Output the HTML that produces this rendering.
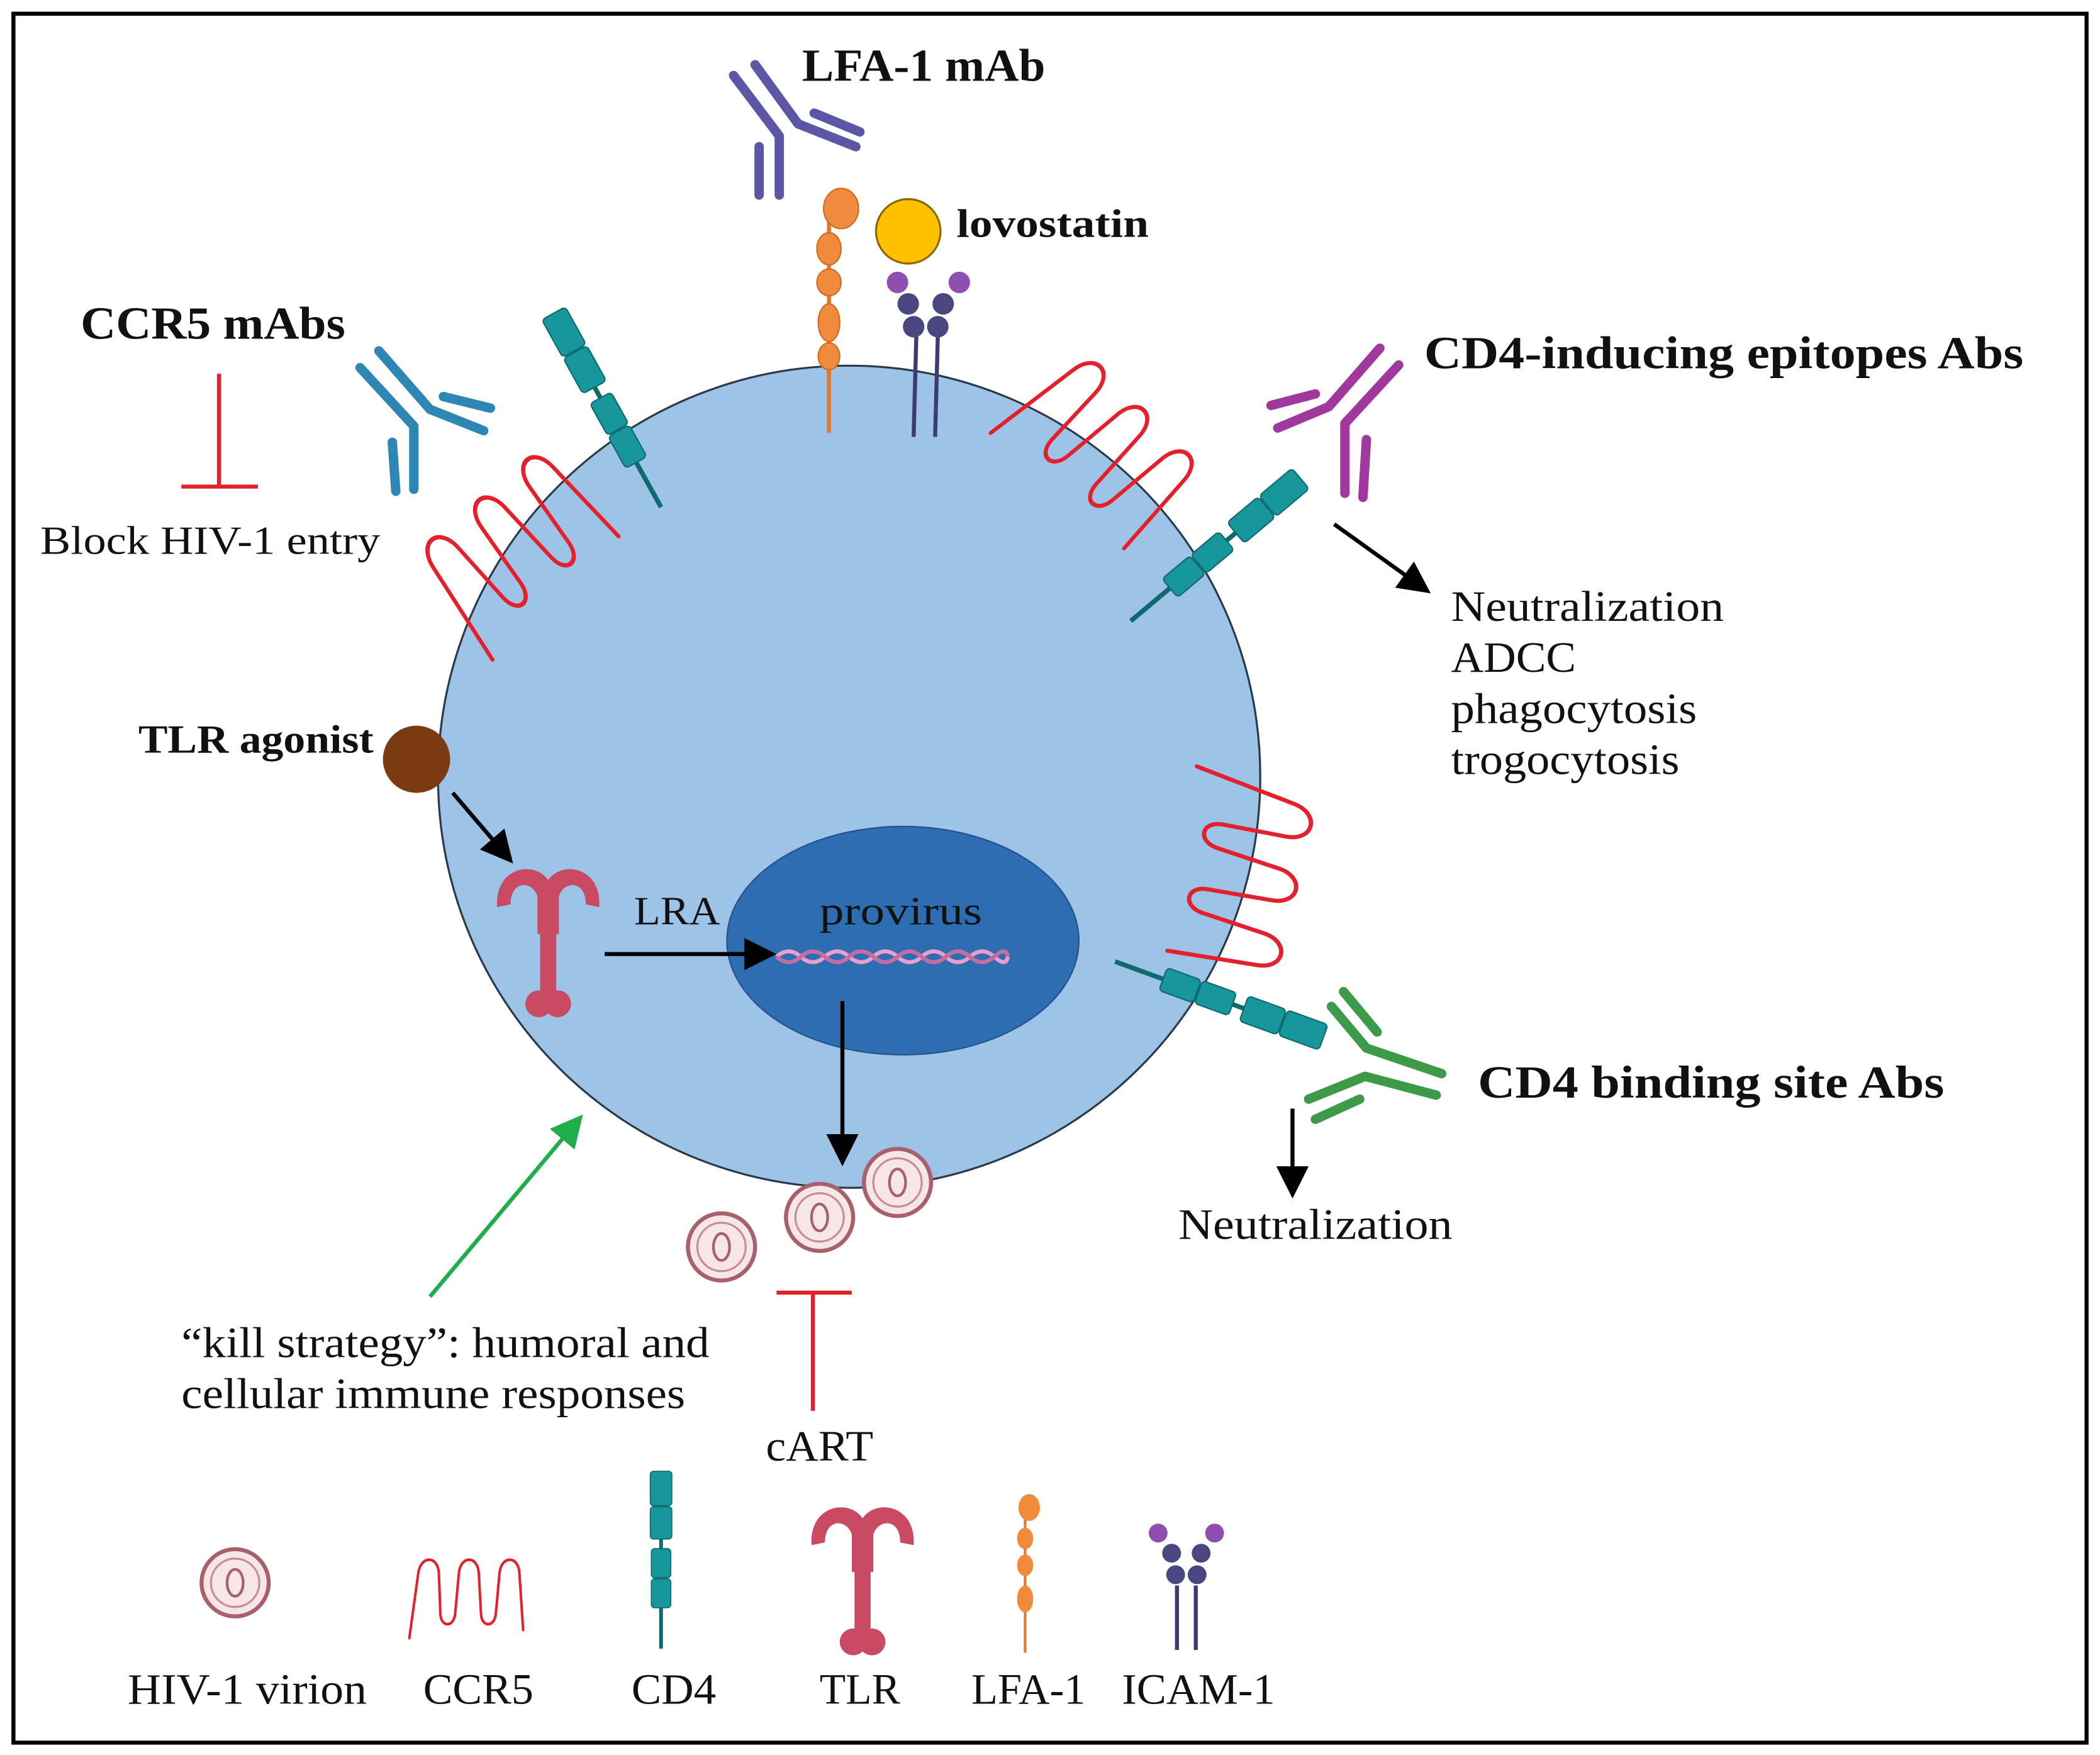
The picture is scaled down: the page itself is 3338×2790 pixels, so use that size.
<!DOCTYPE html>
<html><head><meta charset="utf-8"><style>
html,body{margin:0;padding:0;background:#fff;}
svg{display:block;}
text{font-family:"Liberation Serif",serif;fill:#111;}
.b{font-weight:bold;}
</style></head><body>
<svg width="3338" height="2790" viewBox="0 0 1563 1306" xmlns="http://www.w3.org/2000/svg">
<defs>
<marker id="ah" markerWidth="8" markerHeight="8" refX="6" refY="4" orient="auto" markerUnits="strokeWidth"><path d="M0,0 L8,4 L0,8 z" fill="#000"/></marker>
<marker id="ag" markerWidth="8" markerHeight="8" refX="6" refY="4" orient="auto" markerUnits="strokeWidth"><path d="M0,0 L8,4 L0,8 z" fill="#1fae4b"/></marker>
<g id="ccr">
<path d="M-12,25 L0,-55 C3,-78 27,-78 28,-55 L30,-5 C31,12 48,12 50,-5 L55,-55 C57,-78 81,-78 82,-55 L85,-5 C86,12 103,12 105,-5 L110,-55 C112,-78 136,-78 137,-55 L142,15" fill="none" stroke="#e3202c" stroke-width="3.4" stroke-linejoin="round" stroke-linecap="round"/>
</g>
<g id="vir"><circle r="25" fill="#f6e6e6" stroke="#a8606c" stroke-width="3"/><circle r="18" fill="none" stroke="#c88a94" stroke-width="1.5"/><ellipse rx="6" ry="10" fill="none" stroke="#a8606c" stroke-width="2"/></g>
<g id="tlr"><g fill="#c94a62">
<path d="M-38,-10 C-40,-40 -10,-45 0,-30 C10,-45 40,-40 38,-10 L28,-12 C28,-30 12,-30 8,-18 L8,10 L-8,10 L-8,-18 C-12,-30 -28,-30 -28,-12 Z"/>
<rect x="-6" y="8" width="12" height="50"/><circle cx="-7" cy="62" r="10"/><circle cx="7" cy="62" r="10"/></g></g>
<g id="cd4"><g fill="#17979b" stroke="#0d6b6e" stroke-width="1">
<line x1="0" y1="0" x2="165" y2="0" stroke="#0d6b6e" stroke-width="3.5"/>
<rect x="0" y="-10" width="32" height="20" rx="3"/><rect x="33" y="-10" width="30" height="20" rx="3"/>
<rect x="72" y="-9" width="27" height="18" rx="3"/><rect x="100" y="-9" width="27" height="18" rx="3"/></g></g>
</defs>
<rect x="10" y="10" width="1543" height="1287" fill="#fff" stroke="#000" stroke-width="3"/>

<circle cx="632" cy="578" r="306" fill="#9dc3e6" stroke="#2a3a4a" stroke-width="1.5"/>
<ellipse cx="672" cy="700" rx="131" ry="85" fill="#2f6db3" stroke="#24508a" stroke-width="1"/>

<!-- DNA -->
<path d="M578,712 q9,-8 18,0 t18,0 t18,0 t18,0 t18,0 t18,0 t18,0 t18,0 t18,0 t10,0" fill="none" stroke="#e8a0c8" stroke-width="3"/>
<path d="M578,712 q9,8 18,0 t18,0 t18,0 t18,0 t18,0 t18,0 t18,0 t18,0 t18,0 t10,0" fill="none" stroke="#c070a0" stroke-width="3"/>

<!-- CCR5 -->
<use href="#ccr" transform="translate(380,405) rotate(-40) scale(0.85,1) translate(-65,32)"/>
<use href="#ccr" transform="translate(822,330) rotate(45) scale(0.85,0.95) translate(-65,32)"/>
<use href="#ccr" transform="translate(928,650) rotate(103) scale(0.9,0.95) translate(-65,32)"/>
<use href="#ccr" transform="translate(347,1185) scale(0.55,0.6) translate(-65,32)"/>

<!-- CD4 -->
<use href="#cd4" transform="translate(412,233) rotate(61)"/>
<use href="#cd4" transform="translate(968,356) rotate(140)"/>
<use href="#cd4" transform="translate(985,772) rotate(200)"/>
<use href="#cd4" transform="translate(492,1095) rotate(90) scale(0.8)"/>

<!-- LFA-1 -->
<g fill="#f08a3c" stroke="#d06a20" stroke-width="1">
<line x1="617" y1="160" x2="617" y2="322" stroke="#e07a30" stroke-width="3"/>
<ellipse cx="626" cy="155" rx="13" ry="15"/><ellipse cx="617" cy="185" rx="9" ry="12"/>
<ellipse cx="617" cy="210" rx="9" ry="10"/><ellipse cx="617" cy="240" rx="8" ry="14"/><ellipse cx="617" cy="265" rx="8" ry="10"/></g>
<g fill="#f08a3c"><line x1="763" y1="1130" x2="763" y2="1230" stroke="#e07a30" stroke-width="2"/>
<ellipse cx="766" cy="1122" rx="8" ry="10"/><ellipse cx="763" cy="1145" rx="6" ry="8"/><ellipse cx="763" cy="1165" rx="6" ry="8"/><ellipse cx="763" cy="1190" rx="6" ry="10"/></g>

<!-- ICAM-1 -->
<g stroke="#3d3c70" stroke-width="3"><line x1="682" y1="250" x2="680" y2="325"/><line x1="698" y1="250" x2="696" y2="325"/></g>
<g fill="#4a4680"><circle cx="680" cy="243" r="8"/><circle cx="698" cy="243" r="8"/><circle cx="676" cy="226" r="8"/><circle cx="702" cy="226" r="8"/></g>
<g fill="#8e4fb0"><circle cx="668" cy="210" r="8"/><circle cx="714" cy="210" r="8"/></g>
<g stroke="#3d3c70" stroke-width="3"><line x1="876" y1="1180" x2="876" y2="1228"/><line x1="890" y1="1180" x2="890" y2="1228"/></g>
<g fill="#4a4680"><circle cx="875" cy="1172" r="7"/><circle cx="891" cy="1172" r="7"/><circle cx="872" cy="1156" r="7"/><circle cx="894" cy="1156" r="7"/></g>
<g fill="#8e4fb0"><circle cx="862" cy="1141" r="7"/><circle cx="904" cy="1141" r="7"/></g>

<!-- antibodies -->
<g fill="none" stroke-width="7" stroke-linecap="round" stroke-linejoin="round">
<g stroke="#5b57a6">
<polyline points="546,56 580,101 580,145"/><polyline points="562,48 594,92 637,109"/>
<line x1="606" y1="84" x2="640" y2="98"/><line x1="565" y1="109" x2="565" y2="145"/></g>
<g stroke="#2e86b5" transform="translate(308,317)">
<polyline points="-40,-43.5 0,0 0,47"/><polyline points="-26,-56 12,-12.5 52,3.4"/>
<line x1="22" y1="-22" x2="57" y2="-13.4"/><line x1="-16" y1="12" x2="-13.4" y2="48.5"/></g>
<g stroke="#a0389e" transform="translate(1001,315) scale(-1,1)">
<polyline points="-40,-43.5 0,0 0,52"/><polyline points="-26,-56 12,-12.5 50,3.4"/>
<line x1="22" y1="-22" x2="55" y2="-13.4"/><line x1="-16" y1="12" x2="-13.4" y2="55"/></g>
<g stroke="#3c9a48">
<polyline points="991,749 1017,780 1073,799"/><polyline points="974,818 1016,801 1069,815"/>
<line x1="1000" y1="738" x2="1025" y2="768"/><line x1="979" y1="833" x2="1012" y2="818"/></g>
</g>

<!-- TLR -->
<use href="#tlr" transform="translate(408,685)"/>
<use href="#tlr" transform="translate(642,1160)"/>

<!-- circles -->
<circle cx="310" cy="565" r="25" fill="#7b3a12"/>
<circle cx="676" cy="172" r="24" fill="#ffc000" stroke="#8a6a00" stroke-width="1.5"/>

<!-- virions -->
<use href="#vir" x="537" y="928"/><use href="#vir" x="610" y="906"/><use href="#vir" x="668" y="880"/>
<use href="#vir" x="175" y="1178"/>

<!-- arrows -->
<g stroke="#000" stroke-width="3" fill="none">
<line x1="337" y1="590" x2="378" y2="638" marker-end="url(#ah)"/>
<line x1="450" y1="710" x2="572" y2="710" marker-end="url(#ah)"/>
<line x1="627" y1="745" x2="627" y2="862" marker-end="url(#ah)"/>
<line x1="993" y1="390" x2="1060" y2="438" marker-end="url(#ah)"/>
<line x1="962" y1="825" x2="962" y2="886" marker-end="url(#ah)"/>
</g>
<line x1="320" y1="965" x2="430" y2="834" stroke="#1fae4b" stroke-width="3" marker-end="url(#ag)"/>
<g stroke="#e3202c" stroke-width="3">
<line x1="163" y1="278" x2="163" y2="362"/><line x1="135" y1="362" x2="192" y2="362"/>
<line x1="605" y1="962" x2="605" y2="1050"/><line x1="578" y1="962" x2="634" y2="962"/>
</g>

<!-- text -->
<text x="597" y="60" font-size="34" class="b" textLength="181" lengthAdjust="spacingAndGlyphs">LFA-1 mAb</text>
<text x="712" y="176" font-size="30" class="b" textLength="143" lengthAdjust="spacingAndGlyphs">lovostatin</text>
<text x="60" y="252" font-size="34" class="b" textLength="197" lengthAdjust="spacingAndGlyphs">CCR5 mAbs</text>
<text x="30" y="412" font-size="30" textLength="253" lengthAdjust="spacingAndGlyphs">Block HIV-1 entry</text>
<text x="1060" y="274" font-size="34" class="b" textLength="446" lengthAdjust="spacingAndGlyphs">CD4-inducing epitopes Abs</text>
<text x="1080" y="462" font-size="32" textLength="203" lengthAdjust="spacingAndGlyphs">Neutralization</text>
<text x="1080" y="500" font-size="32" textLength="93" lengthAdjust="spacingAndGlyphs">ADCC</text>
<text x="1080" y="538" font-size="32" textLength="183" lengthAdjust="spacingAndGlyphs">phagocytosis</text>
<text x="1080" y="576" font-size="32" textLength="170" lengthAdjust="spacingAndGlyphs">trogocytosis</text>
<text x="103" y="560" font-size="30" class="b" textLength="175" lengthAdjust="spacingAndGlyphs">TLR agonist</text>
<text x="472" y="688" font-size="30" textLength="64" lengthAdjust="spacingAndGlyphs">LRA</text>
<text x="610" y="688" font-size="30" textLength="121" lengthAdjust="spacingAndGlyphs">provirus</text>
<text x="1100" y="817" font-size="34" class="b" textLength="347" lengthAdjust="spacingAndGlyphs">CD4 binding site Abs</text>
<text x="877" y="922" font-size="32" textLength="204" lengthAdjust="spacingAndGlyphs">Neutralization</text>
<text x="135" y="1010" font-size="32" textLength="393" lengthAdjust="spacingAndGlyphs">“kill strategy”: humoral and</text>
<text x="135" y="1048" font-size="32" textLength="375" lengthAdjust="spacingAndGlyphs">cellular immune responses</text>
<text x="570" y="1087" font-size="32" textLength="80" lengthAdjust="spacingAndGlyphs">cART</text>
<text x="95" y="1268" font-size="32" textLength="178" lengthAdjust="spacingAndGlyphs">HIV-1 virion</text>
<text x="315" y="1268" font-size="32" textLength="82" lengthAdjust="spacingAndGlyphs">CCR5</text>
<text x="470" y="1268" font-size="32" textLength="63" lengthAdjust="spacingAndGlyphs">CD4</text>
<text x="610" y="1268" font-size="32" textLength="60" lengthAdjust="spacingAndGlyphs">TLR</text>
<text x="723" y="1268" font-size="32" textLength="85" lengthAdjust="spacingAndGlyphs">LFA-1</text>
<text x="835" y="1268" font-size="32" textLength="114" lengthAdjust="spacingAndGlyphs">ICAM-1</text>
</svg>
</body></html>
